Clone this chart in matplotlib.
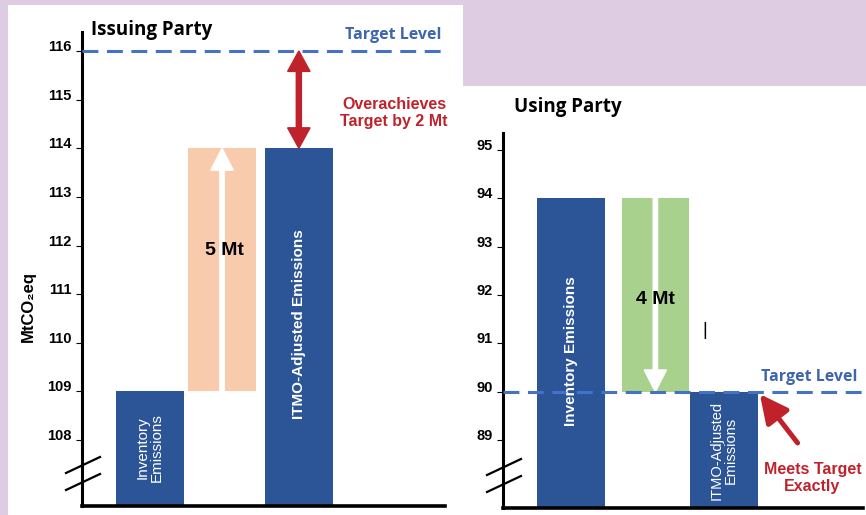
import numpy as np
import matplotlib.pyplot as plt
from matplotlib.patches import Rectangle
from matplotlib.lines import Line2D

# Issuing party (transfers ITMOs out)
issuing_inventory = 109
issuing_transfer = 5
issuing_target = 116
issuing_ticks = [108, 109, 110, 111, 112, 113, 114, 115, 116]

# Using party (acquires ITMOs)
using_inventory = 94
using_transfer = 4
using_target = 90
using_ticks = [89, 90, 91, 92, 93, 94, 95]

issuing_adjusted = issuing_inventory + issuing_transfer
using_adjusted = using_inventory - using_transfer

BLUE = '#2B5597'
PEACH = '#F8CBAD'
GREEN = '#A9D18E'
DASH = '#4472C4'
TARGET_TXT = '#3F66AC'
RED = '#C0222C'
LAVENDER = '#DECCE2'

plt.rcParams['font.family'] = ['Liberation Sans', 'DejaVu Sans']
TITLE_FONT = ['Open Sans', 'DejaVu Sans']

W, H = 866, 515
fig = plt.figure(figsize=(W / 100, H / 100), dpi=100, facecolor=LAVENDER)

# white panels behind each chart
fig.patches.append(Rectangle((8 / W, 0), 455 / W, 510 / H, transform=fig.transFigure,
                             facecolor='white', edgecolor='none', zorder=-5))
fig.patches.append(Rectangle((463 / W, 0), 403 / W, 429 / H, transform=fig.transFigure,
                             facecolor='white', edgecolor='none', zorder=-5))

ax1 = fig.add_axes([82 / W, 9 / H, 363 / W, 474 / H])
ax2 = fig.add_axes([503 / W, 7 / H, 360 / W, 375 / H])


def style_axis(ax, ticks, ylim):
    ax.set_facecolor('none')
    ax.set_ylim(*ylim)
    ax.set_xlim(0, 5.34)
    for s in ['top', 'right']:
        ax.spines[s].set_visible(False)
    ax.spines['left'].set_linewidth(2.2)
    ax.spines['bottom'].set_linewidth(2.6)
    ax.set_xticks([])
    ax.set_yticks(ticks)
    ax.tick_params(axis='y', length=4, width=0.8, pad=3.5)
    for lbl in ax.get_yticklabels():
        lbl.set_fontweight('bold')
        lbl.set_fontsize(10.5)
        lbl.set_va('baseline')


def axis_break(ax):
    # double slash on the y axis near the bottom
    b = ax.get_position()
    x0, y0 = b.x0 * W, b.y0 * H
    for dy in (16, 33):
        fig.add_artist(Line2D([(x0 - 16) / W, (x0 + 18) / W],
                              [(y0 + dy) / H, (y0 + dy + 16) / H],
                              transform=fig.transFigure, color='black', lw=1.6,
                              zorder=10))


def vbar(ax, x, top, bottom, color):
    ax.bar(x, top - bottom, bottom=bottom, width=1.0, color=color, zorder=2)


# ---- Issuing party ----
style_axis(ax1, issuing_ticks, (106.645, 116.39))
y0 = ax1.get_ylim()[0]
vbar(ax1, 1.0, issuing_inventory, y0, BLUE)
vbar(ax1, 2.06, issuing_adjusted, issuing_inventory, PEACH)
vbar(ax1, 3.19, issuing_adjusted, y0, BLUE)
ax1.arrow(2.06, issuing_inventory, 0, issuing_transfer, width=0.065, head_width=0.33,
          head_length=0.45, length_includes_head=True, color='white', zorder=3)
ax1.axhline(issuing_target, color=DASH, lw=2.2, dashes=(5.2, 2.8), zorder=4)

mid = (issuing_target + issuing_adjusted) / 2
for end in (issuing_target, issuing_adjusted):
    ax1.arrow(3.19, mid, 0, end - mid, width=0.075, head_width=0.33, head_length=0.42,
              length_includes_head=True, color=RED, zorder=5)

ax1.text(0.13, 116.43, 'Issuing Party', family=TITLE_FONT, fontweight='bold',
         fontsize=13.5, va='center', ha='left')
ax1.text(5.28, 116.33, 'Target Level', family=TITLE_FONT, fontweight='bold',
         fontsize=11.5, color=TARGET_TXT, va='center', ha='right')
ax1.text(4.59, 114.73, 'Overachieves\nTarget by %d Mt' % (issuing_target - issuing_adjusted),
         color=RED, fontweight='bold', fontsize=11.5, ha='center', va='center')
ax1.text(2.09, 111.9, '%d Mt' % issuing_transfer, fontweight='bold', fontsize=14,
         ha='center', va='center', zorder=6)
ax1.text(1.0, 107.84, 'Inventory\nEmissions', color='white', fontsize=11, rotation=90,
         ha='center', va='center', linespacing=1.0, zorder=6)
ax1.text(3.19, 110.39, 'ITMO-Adjusted Emissions', color='white', fontweight='bold',
         fontsize=11, rotation=90, ha='center', va='center', zorder=6)
axis_break(ax1)

fig.text(28 / W, (H - 306) / H, 'MtCO\u2082eq', rotation=90, fontweight='bold',
         fontsize=12, ha='center', va='center')

# ---- Using party ----
style_axis(ax2, using_ticks, (87.595, 95.35))
y0 = ax2.get_ylim()[0]
vbar(ax2, 1.01, using_inventory, y0, BLUE)
vbar(ax2, 2.26, using_inventory, using_adjusted, GREEN)
vbar(ax2, 3.28, using_adjusted, y0, BLUE)
ax2.arrow(2.26, using_inventory, 0, -using_transfer, width=0.065, head_width=0.33,
          head_length=0.45, length_includes_head=True, color='white', zorder=3)
ax2.axhline(using_target, color=DASH, lw=2.2, dashes=(5.2, 2.8), zorder=4)

ax2.annotate('', xy=(3.81, using_target - 0.05), xytext=(4.37, 88.94),
             arrowprops=dict(arrowstyle='-|>,head_length=0.85,head_width=0.42',
                             color=RED, lw=3.6, mutation_scale=20, shrinkA=0, shrinkB=0),
             zorder=5)

ax2.text(0.16, 95.89, 'Using Party', family=TITLE_FONT, fontweight='bold',
         fontsize=13.5, va='center', ha='left', clip_on=False)
ax2.text(5.25, 90.31, 'Target Level', family=TITLE_FONT, fontweight='bold',
         fontsize=11.5, color=TARGET_TXT, va='center', ha='right')
ax2.text(4.59, 88.21, 'Meets Target\nExactly', color=RED, fontweight='bold',
         fontsize=11.5, ha='center', va='center')
ax2.text(2.26, 91.9, '%d Mt' % using_transfer, fontweight='bold', fontsize=14,
         ha='center', va='center', zorder=6)
ax2.text(1.01, 90.84, 'Inventory Emissions', color='white', fontweight='bold',
         fontsize=11, rotation=90, ha='center', va='center', zorder=6)
ax2.text(3.28, 88.79, 'ITMO-Adjusted\nEmissions', color='white', fontsize=10.5,
         rotation=90, ha='center', va='center', linespacing=1.0, zorder=6)
ax2.text(2.99, 91.27, '|', fontsize=13, ha='center', va='center')
axis_break(ax2)

fig.savefig('out.png', dpi=100, facecolor=LAVENDER)
